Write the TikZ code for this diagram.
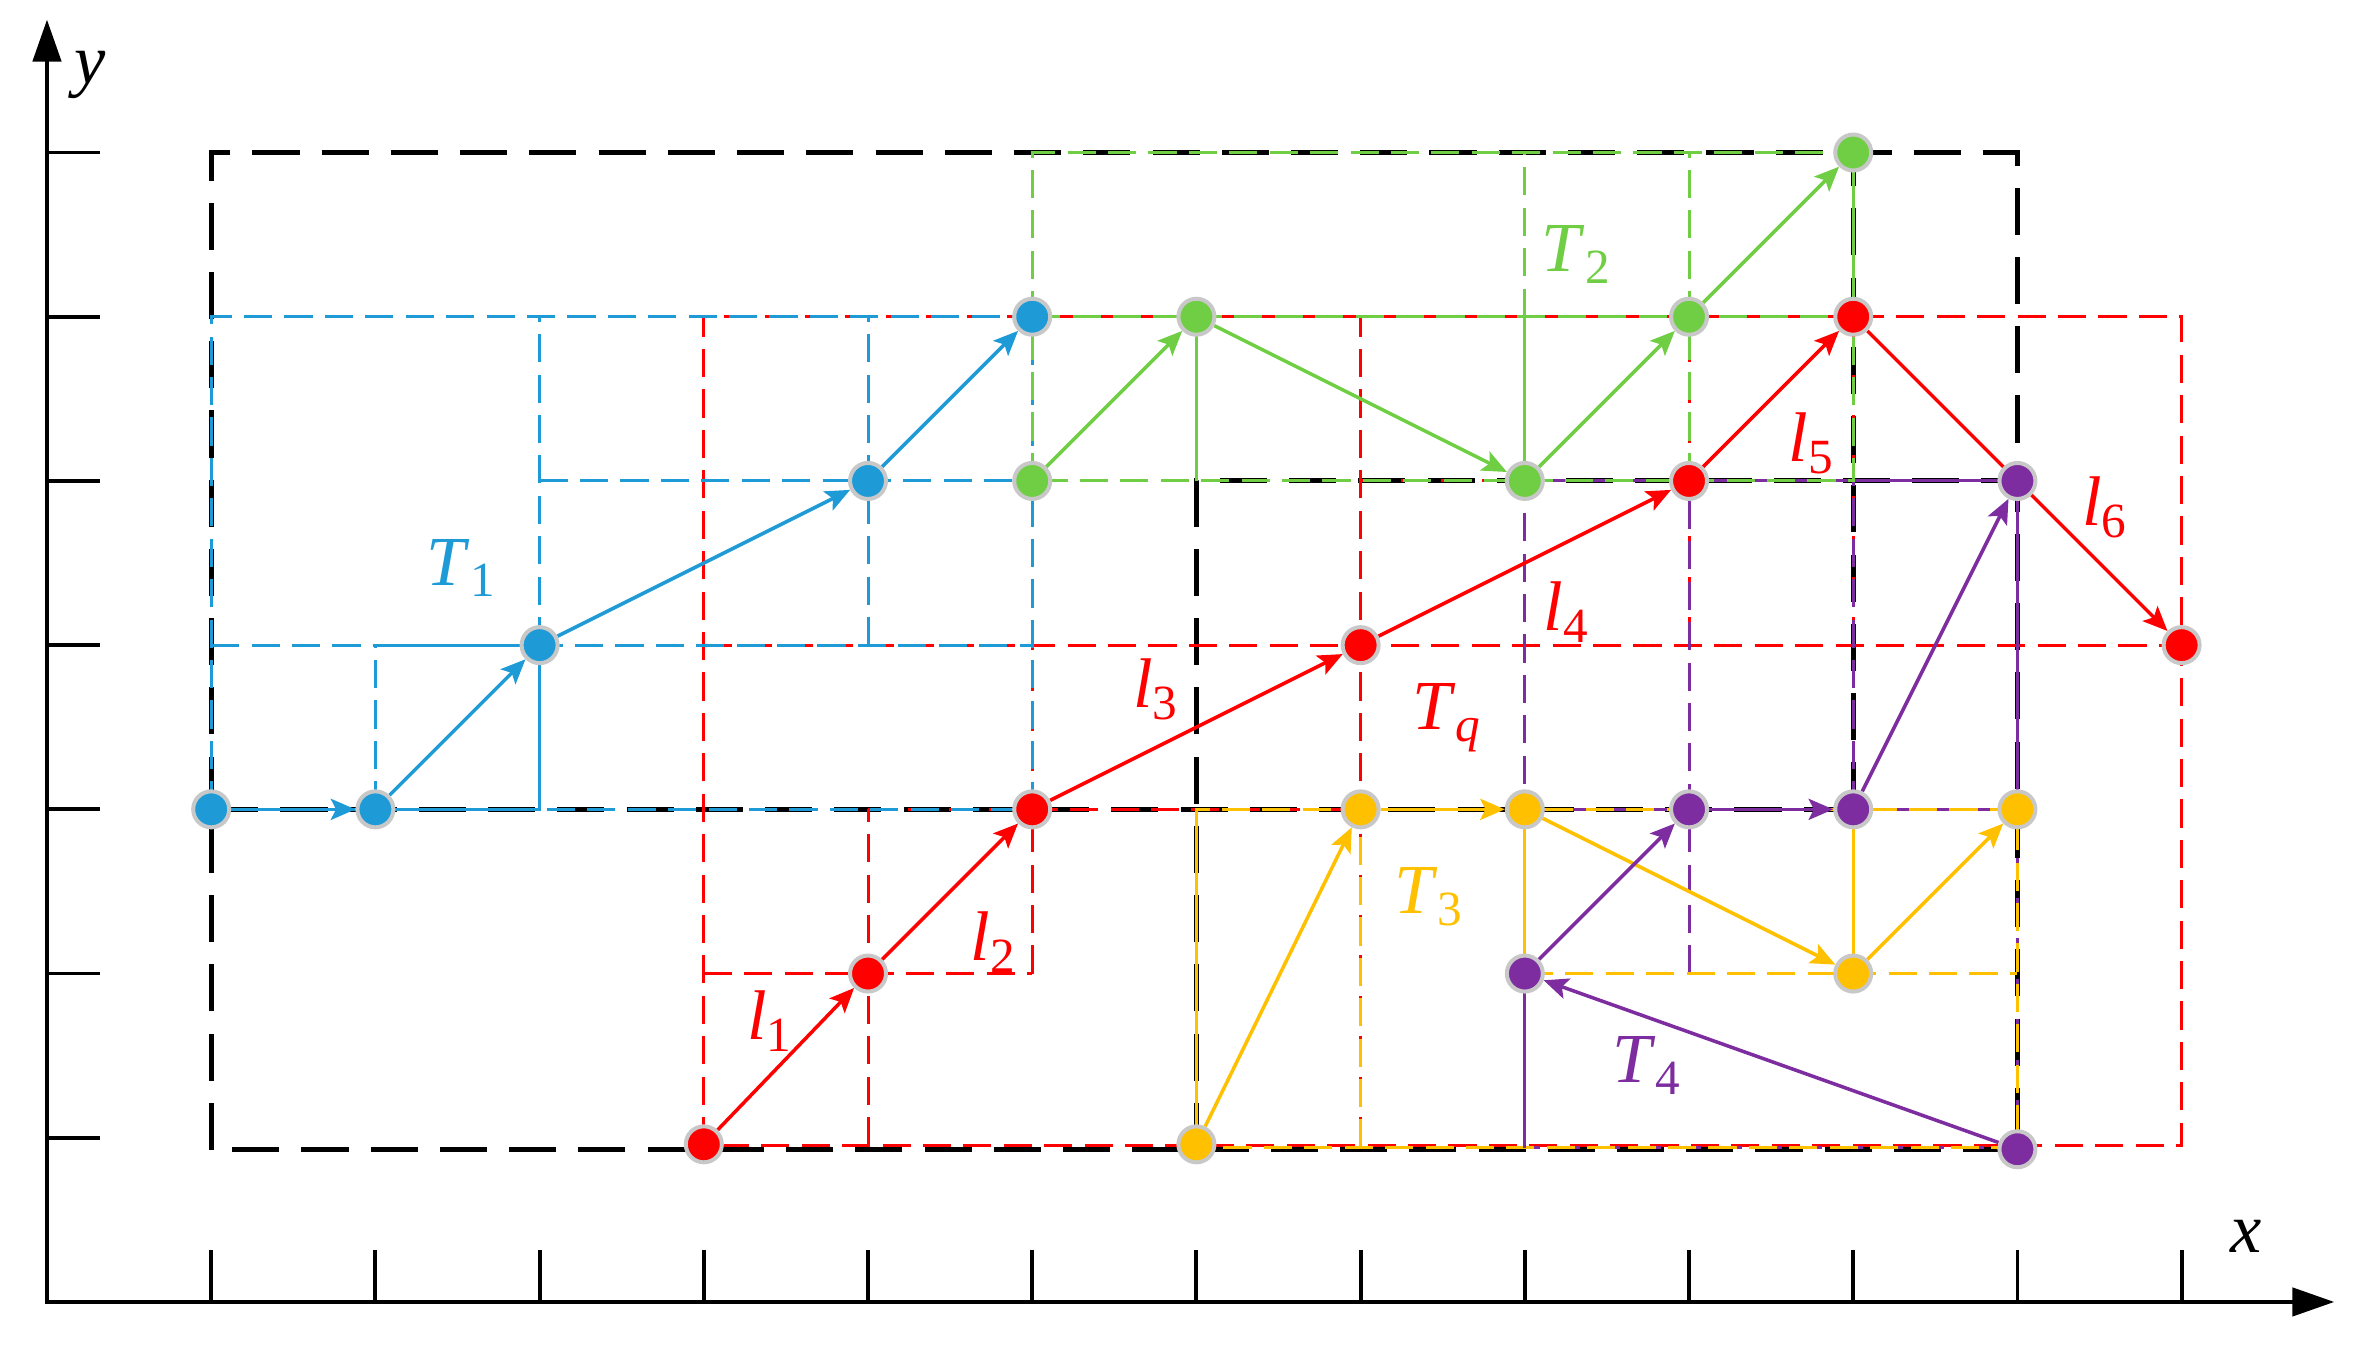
\documentclass[tikz,border=0pt]{standalone}
\usepackage{fontspec}
\setmainfont{Liberation Serif}
\usetikzlibrary{arrows.meta}
\definecolor{cb}{RGB}{30,155,215}
\definecolor{cg}{RGB}{112,206,68}
\definecolor{cr}{RGB}{255,0,0}
\definecolor{cy}{RGB}{255,192,0}
\definecolor{cp}{RGB}{125,45,160}
\definecolor{dotgray}{RGB}{200,200,200}
\pgfdeclarelayer{gridlayer}
\pgfdeclarelayer{connlayer}
\pgfsetlayers{gridlayer,connlayer,main}
\newcommand\sublab[2]{\textit{#1}\raisebox{-3.4pt}{\fontsize{14}{14}\selectfont #2}}
\begin{document}
\begin{tikzpicture}[x=1.642cm,y=1.642cm,
  dot/.style={circle,inner sep=0pt,minimum size=0.36cm,line width=1.14pt,draw=dotgray},
  gd/.style={line width=0.85pt,dash pattern=on 8pt off 3.5pt},
  sl/.style={line width=0.85pt},
  bk/.style={line width=1.4pt,dash pattern=on 13.4pt off 6.3pt},
  ar/.style={line width=1pt,-{Stealth[length=7pt,width=6pt,inset=1.5pt]}},
  lab/.style={font=\fontsize{20}{24}\selectfont,inner sep=0pt},
  ax/.style={line width=1.3pt},
  tick/.style={line width=1.1pt}]
\useasboundingbox (-0.2862,-0.268) rectangle (14.056,7.929);

% ---------- dots ----------
\node[dot,fill=cb] (b1) at (1,3) {};
\node[dot,fill=cb] (b2) at (2,3) {};
\node[dot,fill=cb] (b3) at (3,4) {};
\node[dot,fill=cb] (b4) at (5,5) {};
\node[dot,fill=cb] (b5) at (6,6) {};
\node[dot,fill=cg] (g1) at (6,5) {};
\node[dot,fill=cg] (g2) at (7,6) {};
\node[dot,fill=cg] (g3) at (9,5) {};
\node[dot,fill=cg] (g4) at (10,6) {};
\node[dot,fill=cg] (g5) at (11,7) {};
\node[dot,fill=cr] (r1) at (4,0.96) {};
\node[dot,fill=cr] (r2) at (5,2) {};
\node[dot,fill=cr] (r3) at (6,3) {};
\node[dot,fill=cr] (r4) at (8,4) {};
\node[dot,fill=cr] (r5) at (10,5) {};
\node[dot,fill=cr] (r6) at (11,6) {};
\node[dot,fill=cr] (r7) at (13,4) {};
\node[dot,fill=cy] (y1) at (7,0.96) {};
\node[dot,fill=cy] (y2) at (8,3) {};
\node[dot,fill=cy] (y3) at (9,3) {};
\node[dot,fill=cy] (y4) at (11,2) {};
\node[dot,fill=cy] (y5) at (12,3) {};
\node[dot,fill=cp] (p1) at (12,0.93) {};
\node[dot,fill=cp] (p2) at (9,2) {};
\node[dot,fill=cp] (p3) at (10,3) {};
\node[dot,fill=cp] (p4) at (11,3) {};
\node[dot,fill=cp] (p5) at (12,5) {};

% ---------- labels ----------
\node[lab,cb] (t1) at (2.52,4.47) {\sublab{T}{1}};
\node[lab,cg] (t2) at (9.31,6.38) {\sublab{T}{2}};
\node[lab,cr] (tq) at (8.52,3.56) {\sublab{T}{\textit{q}}};
\node[lab,cy] (t3) at (8.41,2.47) {\sublab{T}{3}};
\node[lab,cp] (t4) at (9.74,1.44) {\sublab{T}{4}};
\node[lab,cr] (la1) at (4.40,1.71) {\sublab{l}{1}};
\node[lab,cr] (la2) at (5.76,2.19) {\sublab{l}{2}};
\node[lab,cr] (la3) at (6.75,3.73) {\sublab{l}{3}};
\node[lab,cr] (la4) at (9.25,4.20) {\sublab{l}{4}};
\node[lab,cr] (la5) at (10.74,5.23) {\sublab{l}{5}};
\node[lab,cr] (la6) at (12.53,4.84) {\sublab{l}{6}};
\node[lab] (ylab) at (0.26,7.47) {\textit{y}};
\node[lab] (xlab) at (13.39,0.40) {\textit{x}};

% ---------- connectors ----------
\begin{pgfonlayer}{connlayer}
\draw[ar,cb] (b1) -- (b2);
\draw[ar,cb] (b2) -- (b3);
\draw[ar,cb] (b3) -- (b4);
\draw[ar,cb] (b4) -- (b5);
\draw[ar,cg] (g1) -- (g2);
\draw[ar,cg] (g2) -- (g3);
\draw[ar,cg] (g3) -- (g4);
\draw[ar,cg] (g4) -- (g5);
\draw[ar,cr] (r1) -- (r2);
\draw[ar,cr] (r2) -- (r3);
\draw[ar,cr] (r3) -- (r4);
\draw[ar,cr] (r4) -- (r5);
\draw[ar,cr] (r5) -- (r6);
\draw[ar,cr] (r6) -- (r7);
\draw[ar,cy] (y1) -- (y2);
\draw[ar,cy] (y2) -- (y3);
\draw[ar,cy] (y3) -- (y4);
\draw[ar,cy] (y4) -- (y5);
\draw[ar,cp] (p1) -- (p2);
\draw[ar,cp] (p2) -- (p3);
\draw[ar,cp] (p3) -- (p4);
\draw[ar,cp] (p4) -- (p5);
\end{pgfonlayer}

% ---------- grid / partitions ----------
\begin{pgfonlayer}{gridlayer}
% axes
\draw[ax,{Triangle[length=0.42cm,width=0.28cm]}-{Triangle[length=0.42cm,width=0.28cm]}] (0,7.81) -- (0,0) -- (13.93,0);
\foreach \i in {1,...,13} \draw[tick] (\i,0) -- (\i,0.317);
\foreach \j in {1,...,7} \draw[tick] (0,\j) -- (0.32,\j);
% black
\draw[bk] (1,0.926) rectangle (12,7);
\draw[bk] (1,3) -- (11,3);
\draw[bk] (7,0.926) -- (7,5) -- (12,5);
\draw[bk] (11,3) -- (11,7);
% red
\draw[gd,cr] (4,0.955) rectangle (13,6);
\draw[gd,cr] (4,4) -- (13,4);
\draw[gd,cr] (8,0.955) -- (8,6);
\draw[gd,cr] (5,3) -- (8,3);
\draw[gd,cr] (5,0.955) -- (5,3);
\draw[gd,cr] (4,2) -- (6,2);
\draw[gd,cr] (6,2) -- (6,4);
\draw[gd,cr] (10,4) -- (10,6);
\draw[gd,cr] (11,4) -- (11,6);
\draw[gd,cr] (8,5) -- (11,5);
% purple dashed
\draw[gd,cp] (9,0.94) rectangle (12,5);
\draw[gd,cp] (9,3) -- (12,3);
\draw[gd,cp] (10,2) -- (10,5);
\draw[gd,cp] (11,3) -- (11,5);
\draw[gd,cp] (9,2) -- (12,2);
% yellow
\draw[gd,cy] (7,0.94) rectangle (12,3);
\draw[gd,cy] (8,0.94) -- (8,3);
\draw[gd,cy] (9,0.94) -- (9,2);
\draw[gd,cy] (9,2) -- (12,2);
\draw[sl,cy] (7,0.94) -- (7,3);
\draw[sl,cy] (9,2) -- (9,3);
\draw[sl,cy] (11,2) -- (11,3);
% purple solid
\draw[sl,cp] (11,5) -- (12,5) -- (12,3);
\draw[sl,cp] (9,2) -- (9,0.94);
% blue
\draw[gd,cb] (1,3) rectangle (6,6);
\draw[gd,cb] (1,4) -- (6,4);
\draw[gd,cb] (2,3) -- (2,4);
\draw[gd,cb] (3,4) -- (3,6);
\draw[gd,cb] (3,5) -- (6,5);
\draw[gd,cb] (5,4) -- (5,6);
\draw[sl,cb] (2,4) -- (3,4) -- (3,3) -- (2,3);
% green
\draw[gd,cg] (6,5) rectangle (11,7);
\draw[gd,cg] (6,6) -- (11,6);
\draw[gd,cg] (9,6) -- (9,7);
\draw[gd,cg] (10,5) -- (10,7);
\draw[sl,cg] (7,5) -- (7,6);
\draw[sl,cg] (9,5) -- (9,6);
\draw[sl,cg] (11,6) -- (11,7);
\end{pgfonlayer}
\end{tikzpicture}
\end{document}
